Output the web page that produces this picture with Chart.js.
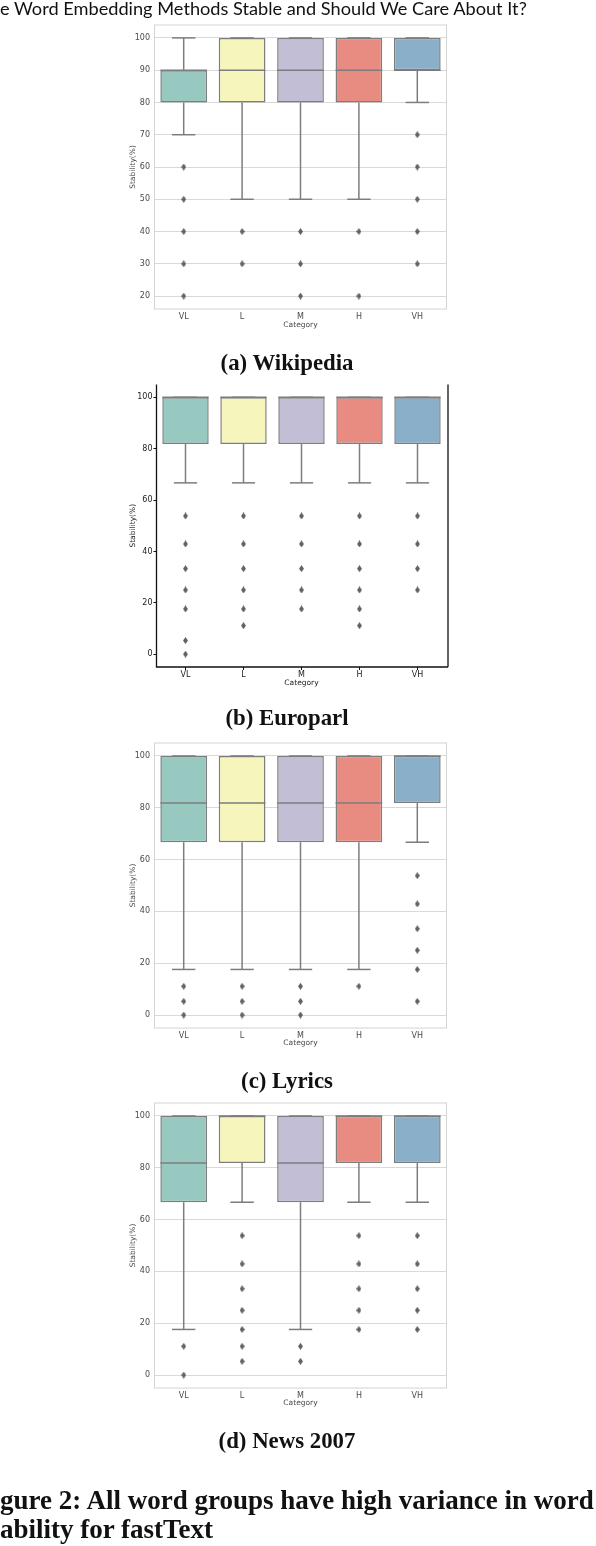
<!DOCTYPE html>
<html>
<head>
<meta charset="utf-8">
<script src="https://cdn.jsdelivr.net/npm/chart.js@4.4.1/dist/chart.umd.min.js"></script>
<style>
html, body { margin: 0; padding: 0; background: #fff; }
body { width: 596px; height: 1546px; position: relative; overflow: hidden; }
#txt { position: absolute; left: 0; top: 0; z-index: 5; pointer-events: none; }
</style>
</head>
<body>
<svg id="txt" width="596" height="1546" xmlns="http://www.w3.org/2000/svg">
  <text id="hdr" x="0" y="15" font-family="Lato" fill="#111">e Word Embedding Methods Stable and Should We Care About It?</text>
  <text id="capA" class="cap" x="287" y="369.5" text-anchor="middle" font-family="Liberation Serif" font-weight="bold" fill="#111">(a) Wikipedia</text>
  <text class="cap" x="287" y="724.5" text-anchor="middle" font-family="Liberation Serif" font-weight="bold" fill="#111">(b) Europarl</text>
  <text class="cap" x="287" y="1087.5" text-anchor="middle" font-family="Liberation Serif" font-weight="bold" fill="#111">(c) Lyrics</text>
  <text class="cap" x="287" y="1448" text-anchor="middle" font-family="Liberation Serif" font-weight="bold" fill="#111">(d) News 2007</text>
  <text id="fig1" class="fig" x="0" y="1509" font-family="Liberation Serif" font-weight="bold" fill="#111">gure 2: All word groups have high variance in word</text>
  <text class="fig" x="0" y="1538" font-family="Liberation Serif" font-weight="bold" fill="#111">ability for fastText</text>
</svg>
<script>
// ---------------- data ----------------
const categories = ['VL', 'L', 'M', 'H', 'VH'];

// (a) Wikipedia
const wikiQ1 = [80, 80, 80, 80, 90];
const wikiMedian = [90, 90, 90, 90, 90];
const wikiQ3 = [90, 100, 100, 100, 100];
const wikiWhiskerLow = [70, 50, 50, 50, 80];
const wikiWhiskerHigh = [100, 100, 100, 100, 100];
const wikiOutliers = [[60, 50, 40, 30, 20], [40, 30], [40, 30, 20], [40, 20], [70, 60, 50, 40, 30]];
const wikiTicks = [20, 30, 40, 50, 60, 70, 80, 90, 100];
const wikiRange = [16, 104];

// (b) Europarl
const euroQ1 = [81.8, 81.8, 81.8, 81.8, 81.8];
const euroMedian = [100, 100, 100, 100, 100];
const euroQ3 = [100, 100, 100, 100, 100];
const euroWhiskerLow = [66.7, 66.7, 66.7, 66.7, 66.7];
const euroWhiskerHigh = [100, 100, 100, 100, 100];
const euroOutliers = [[53.8, 42.9, 33.3, 25, 17.6, 5.3, 0], [53.8, 42.9, 33.3, 25, 17.6, 11.1], [53.8, 42.9, 33.3, 25, 17.6], [53.8, 42.9, 33.3, 25, 17.6, 11.1], [53.8, 42.9, 33.3, 25]];
const euroTicks = [0, 20, 40, 60, 80, 100];
const euroRange = [-5, 105];

// (c) Lyrics
const lyrQ1 = [66.7, 66.7, 66.7, 66.7, 81.8];
const lyrMedian = [81.8, 81.8, 81.8, 81.8, 100];
const lyrQ3 = [100, 100, 100, 100, 100];
const lyrWhiskerLow = [17.6, 17.6, 17.6, 17.6, 66.7];
const lyrWhiskerHigh = [100, 100, 100, 100, 100];
const lyrOutliers = [[11.1, 5.3, 0], [11.1, 5.3, 0], [11.1, 5.3, 0], [11.1], [53.8, 42.9, 33.3, 25, 17.6, 5.3]];
const lyrTicks = [0, 20, 40, 60, 80, 100];
const lyrRange = [-5, 105];

// (d) News 2007
const newsQ1 = [66.7, 81.8, 66.7, 81.8, 81.8];
const newsMedian = [81.8, 100, 81.8, 100, 100];
const newsQ3 = [100, 100, 100, 100, 100];
const newsWhiskerLow = [17.6, 66.7, 17.6, 66.7, 66.7];
const newsWhiskerHigh = [100, 100, 100, 100, 100];
const newsOutliers = [[11.1, 0], [53.8, 42.9, 33.3, 25, 17.6, 11.1, 5.3], [11.1, 5.3], [53.8, 42.9, 33.3, 25, 17.6], [53.8, 42.9, 33.3, 25, 17.6]];
const newsTicks = [0, 20, 40, 60, 80, 100];
const newsRange = [-5, 105];

const yTitle = 'Stability(%)';
const xTitle = 'Category';

// ---------------- styles ----------------
const boxColors = ['#98c9c0', '#f5f5bc', '#c1bed6', '#e88c82', '#8aafc9'];
const lineGray = '#7d7d7d';

// diamond marker
const diamond = document.createElement('canvas');
diamond.width = 5; diamond.height = 7;
(function () {
  const c = diamond.getContext('2d');
  c.fillStyle = '#626262';
  c.beginPath(); c.moveTo(2.5, 0); c.lineTo(5, 3.5); c.lineTo(2.5, 7); c.lineTo(0, 3.5); c.closePath(); c.fill();
})();

const boxParts = {
  id: 'boxParts',
  beforeDatasetsDraw(chart, args, o) {
    const { ctx, scales: { x, y } } = chart;
    const cw = x.getPixelForValue(1) - x.getPixelForValue(0);
    ctx.save();
    ctx.strokeStyle = lineGray; ctx.lineWidth = 1.5; ctx.lineCap = 'butt';
    const seg = (x1, y1, x2, y2) => { ctx.beginPath(); ctx.moveTo(x1, y1); ctx.lineTo(x2, y2); ctx.stroke(); };
    o.low.forEach((lo, i) => {
      const cx = x.getPixelForValue(i);
      seg(cx, y.getPixelForValue(o.q1[i]), cx, y.getPixelForValue(lo));
      seg(cx, y.getPixelForValue(o.q3[i]), cx, y.getPixelForValue(o.high[i]));
      const hw = cw * 0.2;
      seg(cx - hw, y.getPixelForValue(lo), cx + hw, y.getPixelForValue(lo));
      seg(cx - hw, y.getPixelForValue(o.high[i]), cx + hw, y.getPixelForValue(o.high[i]));
    });
    ctx.restore();
  },
  afterDatasetsDraw(chart, args, o) {
    const { ctx, scales: { x, y } } = chart;
    const cw = x.getPixelForValue(1) - x.getPixelForValue(0);
    ctx.save();
    ctx.strokeStyle = lineGray; ctx.lineWidth = 1.5;
    o.median.forEach((m, i) => {
      const cx = x.getPixelForValue(i);
      const py = y.getPixelForValue(m);
      ctx.beginPath(); ctx.moveTo(cx - cw * 0.4, py); ctx.lineTo(cx + cw * 0.4, py); ctx.stroke();
    });
    ctx.restore();
  }
};

const frame = {
  id: 'frame',
  afterDraw(chart, args, o) {
    const { ctx, chartArea: a } = chart;
    ctx.save();
    if (o.style === 'grid') {
      ctx.strokeStyle = '#d4d4d4'; ctx.lineWidth = 1;
      ctx.strokeRect(a.left, a.top, a.right - a.left, a.bottom - a.top);
    } else {
      ctx.strokeStyle = '#111'; ctx.lineWidth = 1.3;
      ctx.beginPath();
      ctx.moveTo(a.left, a.top); ctx.lineTo(a.left, a.bottom); ctx.lineTo(a.right + 1.5, a.bottom);
      ctx.moveTo(a.right + 1.5, a.top); ctx.lineTo(a.right + 1.5, a.bottom);
      ctx.stroke();
    }
    ctx.restore();
  }
};

function buildPanel(p) {
  const W = 596, H = 340;
  const T = Math.floor(p.area.top) - 22;
  const wrap = document.createElement('div');
  wrap.style.cssText = `position:absolute;left:0;top:${T}px;width:${W}px;height:${H}px;`;
  const cv = document.createElement('canvas');
  cv.width = W; cv.height = H;
  wrap.appendChild(cv);
  document.body.insertBefore(wrap, document.getElementById('txt'));
  const padLeft = 124, xH = 24;
  const grid = p.style === 'grid';
  const tickFont = { family: 'DejaVu Sans', size: 8 };
  const tickColor = grid ? '#4a4a4a' : '#222';
  const outlierPts = [];
  p.outliers.forEach((arr, i) => arr.forEach(v => outlierPts.push({ x: categories[i], y: v })));
  new Chart(cv, {
    type: 'bar',
    data: {
      labels: categories,
      datasets: [
        {
          data: p.q1.map((v, i) => [v, p.q3[i]]),
          backgroundColor: boxColors,
          borderColor: lineGray,
          borderWidth: 1.5,
          borderSkipped: false,
          barPercentage: 0.8,
          categoryPercentage: 1.0,
          order: 2
        },
        {
          type: 'scatter',
          data: outlierPts,
          pointStyle: diamond,
          pointRadius: 3,
          order: 1
        }
      ]
    },
    options: {
      responsive: false,
      animation: false,
      events: [],
      layout: {
        padding: { left: padLeft, right: W - p.area.right, top: p.area.top - T, bottom: H - (p.area.bottom - T) - xH }
      },
      plugins: {
        legend: { display: false },
        tooltip: { enabled: false },
        boxParts: { q1: p.q1, q3: p.q3, median: p.median, low: p.low, high: p.high },
        frame: { style: p.style }
      },
      scales: {
        x: {
          type: 'category',
          offset: true,
          grid: { display: !grid, drawOnChartArea: false, offset: false, drawTicks: !grid, tickLength: 3, tickColor: '#111', tickWidth: 1 },
          border: { display: false },
          ticks: { font: tickFont, color: tickColor, padding: grid ? 3 : 0.5, maxRotation: 0 },
          title: { display: true, text: xTitle, font: { family: 'DejaVu Sans', size: 7.5 }, color: tickColor, padding: { top: 0, bottom: p.xTitlePad } },
          afterFit: s => { s.height = xH; }
        },
        y: {
          type: 'linear',
          min: p.range[0],
          max: p.range[1],
          afterBuildTicks: s => { s.ticks = p.ticks.map(v => ({ value: v })); },
          grid: grid
            ? { display: true, color: '#d9d9d9', lineWidth: 1, drawTicks: false }
            : { display: true, drawOnChartArea: false, drawTicks: true, tickLength: 3, tickColor: '#111' },
          border: { display: false },
          ticks: { font: tickFont, color: tickColor, padding: grid ? 4.5 : 1 },
          title: { display: true, text: yTitle, font: { family: 'DejaVu Sans', size: 7.5 }, color: tickColor, padding: { top: 4.5, bottom: 0 } },
          afterFit: s => { s.width = p.area.left - padLeft; }
        }
      }
    },
    plugins: [boxParts, frame]
  });
}

Chart.defaults.font.family = 'DejaVu Sans';

buildPanel({ style: 'grid', area: { left: 154.5, right: 446.5, top: 25, bottom: 309 }, range: wikiRange, ticks: wikiTicks,
  q1: wikiQ1, q3: wikiQ3, median: wikiMedian, low: wikiWhiskerLow, high: wikiWhiskerHigh, outliers: wikiOutliers, xTitlePad: 3 });
buildPanel({ style: 'ticks', area: { left: 156.5, right: 446.5, top: 384.5, bottom: 667 }, range: euroRange, ticks: euroTicks,
  q1: euroQ1, q3: euroQ3, median: euroMedian, low: euroWhiskerLow, high: euroWhiskerHigh, outliers: euroOutliers, xTitlePad: 3.5 });
buildPanel({ style: 'grid', area: { left: 154.5, right: 446.5, top: 743, bottom: 1028 }, range: lyrRange, ticks: lyrTicks,
  q1: lyrQ1, q3: lyrQ3, median: lyrMedian, low: lyrWhiskerLow, high: lyrWhiskerHigh, outliers: lyrOutliers, xTitlePad: 4.5 });
buildPanel({ style: 'grid', area: { left: 154.5, right: 446.5, top: 1103, bottom: 1388 }, range: newsRange, ticks: newsTicks,
  q1: newsQ1, q3: newsQ3, median: newsMedian, low: newsWhiskerLow, high: newsWhiskerHigh, outliers: newsOutliers, xTitlePad: 4.5 });

// ---------------- text fitting ----------------
function fitSize(el, target) {
  el.setAttribute('font-size', 100);
  const w = el.getComputedTextLength();
  return 100 * target / w;
}
const hdr = document.getElementById('hdr');
hdr.setAttribute('font-size', fitSize(hdr, 527));
const capSize = fitSize(document.getElementById('capA'), 133);
document.querySelectorAll('.cap').forEach(e => e.setAttribute('font-size', capSize));
const figSize = fitSize(document.getElementById('fig1'), 594);
document.querySelectorAll('.fig').forEach(e => e.setAttribute('font-size', figSize));
</script>
</body>
</html>
